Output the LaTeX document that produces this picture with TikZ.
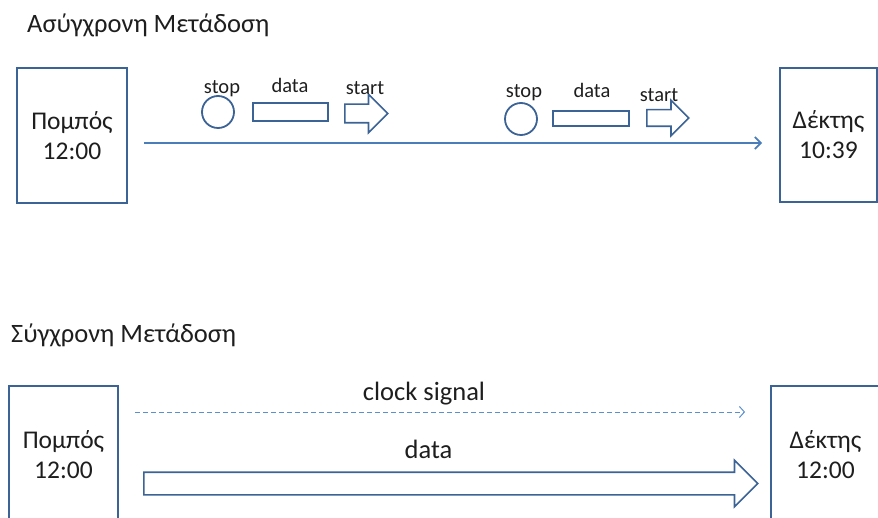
\documentclass[tikz,border=0pt]{standalone}
\usepackage{fontspec}
\setmainfont{Carlito}
\usetikzlibrary{shapes.arrows,arrows.meta}
\definecolor{boxblue}{HTML}{3B6396}
\definecolor{lineblue}{HTML}{4A7EBB}
\definecolor{dashblue}{HTML}{5B8FD0}
\definecolor{txt}{HTML}{1E1E1E}
\begin{document}
\begin{tikzpicture}[x=1pt,y=-1pt,
  box/.style={draw=boxblue, line width=1.8pt, fill=white, align=center,
    font=\fontsize{25.5}{30}\selectfont, text=txt, inner sep=0pt},
  stopc/.style={circle, draw=boxblue, line width=1.8pt, inner sep=0pt},
  datar/.style={rectangle, draw=boxblue, line width=1.8pt, inner sep=0pt},
  startar/.style={single arrow, draw=boxblue, line width=1.6pt, inner xsep=0pt,
    single arrow tip angle=90, anchor=tail},
  small/.style={font=\fontsize{20.5}{24}\selectfont, text=txt, anchor=base, inner sep=0pt},
  title/.style={font=\fontsize{26.5}{30}\selectfont, text=txt, anchor=base west, inner sep=0pt},
  midlabel/.style={font=\fontsize{26.5}{30}\selectfont, text=txt, anchor=base, inner sep=0pt}
]
\useasboundingbox (0,0) rectangle (878,518);

% ---------- Asynchronous ----------
\node[title] (t1) at (27,33) {Ασύγχρονη Μετάδοση};
\node[box, minimum width=110pt, minimum height=135pt] (sA) at (72,135.5) {Πομπός\\12:00};
\node[box, minimum width=97pt, minimum height=134pt] (rA) at (828.5,135) {Δέκτης\\10:39};

\coordinate (lA) at (144,143);
\draw[lineblue, line width=1.8pt, -{Straight Barb[length=6pt,width=12pt,line width=1.8pt]}, shorten >=17pt]
  (lA) -- (lA -| rA.west);

% group 1
\node[stopc, minimum size=32pt] (stop1) at (218,112) {};
\node[datar, minimum width=75pt, minimum height=18pt] (data1) at (290.5,112) {};
\node[startar, minimum height=43pt, inner ysep=8.5pt, single arrow head extend=10pt] (start1) at (344,113.5) {};
\node[small] (lstop1) at (222,94) {stop};
\node[small] (ldata1) at (290,93) {data};
\node[small] (lstart1) at (365,95) {start};

% group 2
\node[stopc, minimum size=32pt] (stop2) at (521,119) {};
\node[datar, minimum width=76pt, minimum height=15pt] (data2) at (591,118.5) {};
\node[startar, minimum height=42pt, inner ysep=7.5pt, single arrow head extend=9.5pt] (start2) at (646,118) {};
\node[small] (lstop2) at (524,98) {stop};
\node[small] (ldata2) at (592,98) {data};
\node[small] (lstart2) at (659,102) {start};

% ---------- Synchronous ----------
\node[title] (t2) at (11,343) {Σύγχρονη Μετάδοση};
\node[box, minimum width=109pt, minimum height=138pt] (sB) at (63.5,455) {Πομπός\\12:00};
\node[box, minimum width=109pt, minimum height=138pt] (rB) at (825.5,455) {Δέκτης\\12:00};

\coordinate (lB) at (135,412);
\draw[dashblue, line width=1pt, dash pattern=on 5pt off 3pt,
  -{Straight Barb[length=5pt,width=11pt,line width=1pt]}, shorten >=25pt]
  (lB) -- (lB -| rB.west);
\node[midlabel] (lclock) at (424,400) {clock signal};

\node[startar, minimum height=614pt, inner ysep=10.5pt, single arrow head extend=12pt] (dataB) at (143,483.5) {};
\node[midlabel] (ldataB) at (428.5,458) {data};

\end{tikzpicture}
\end{document}
